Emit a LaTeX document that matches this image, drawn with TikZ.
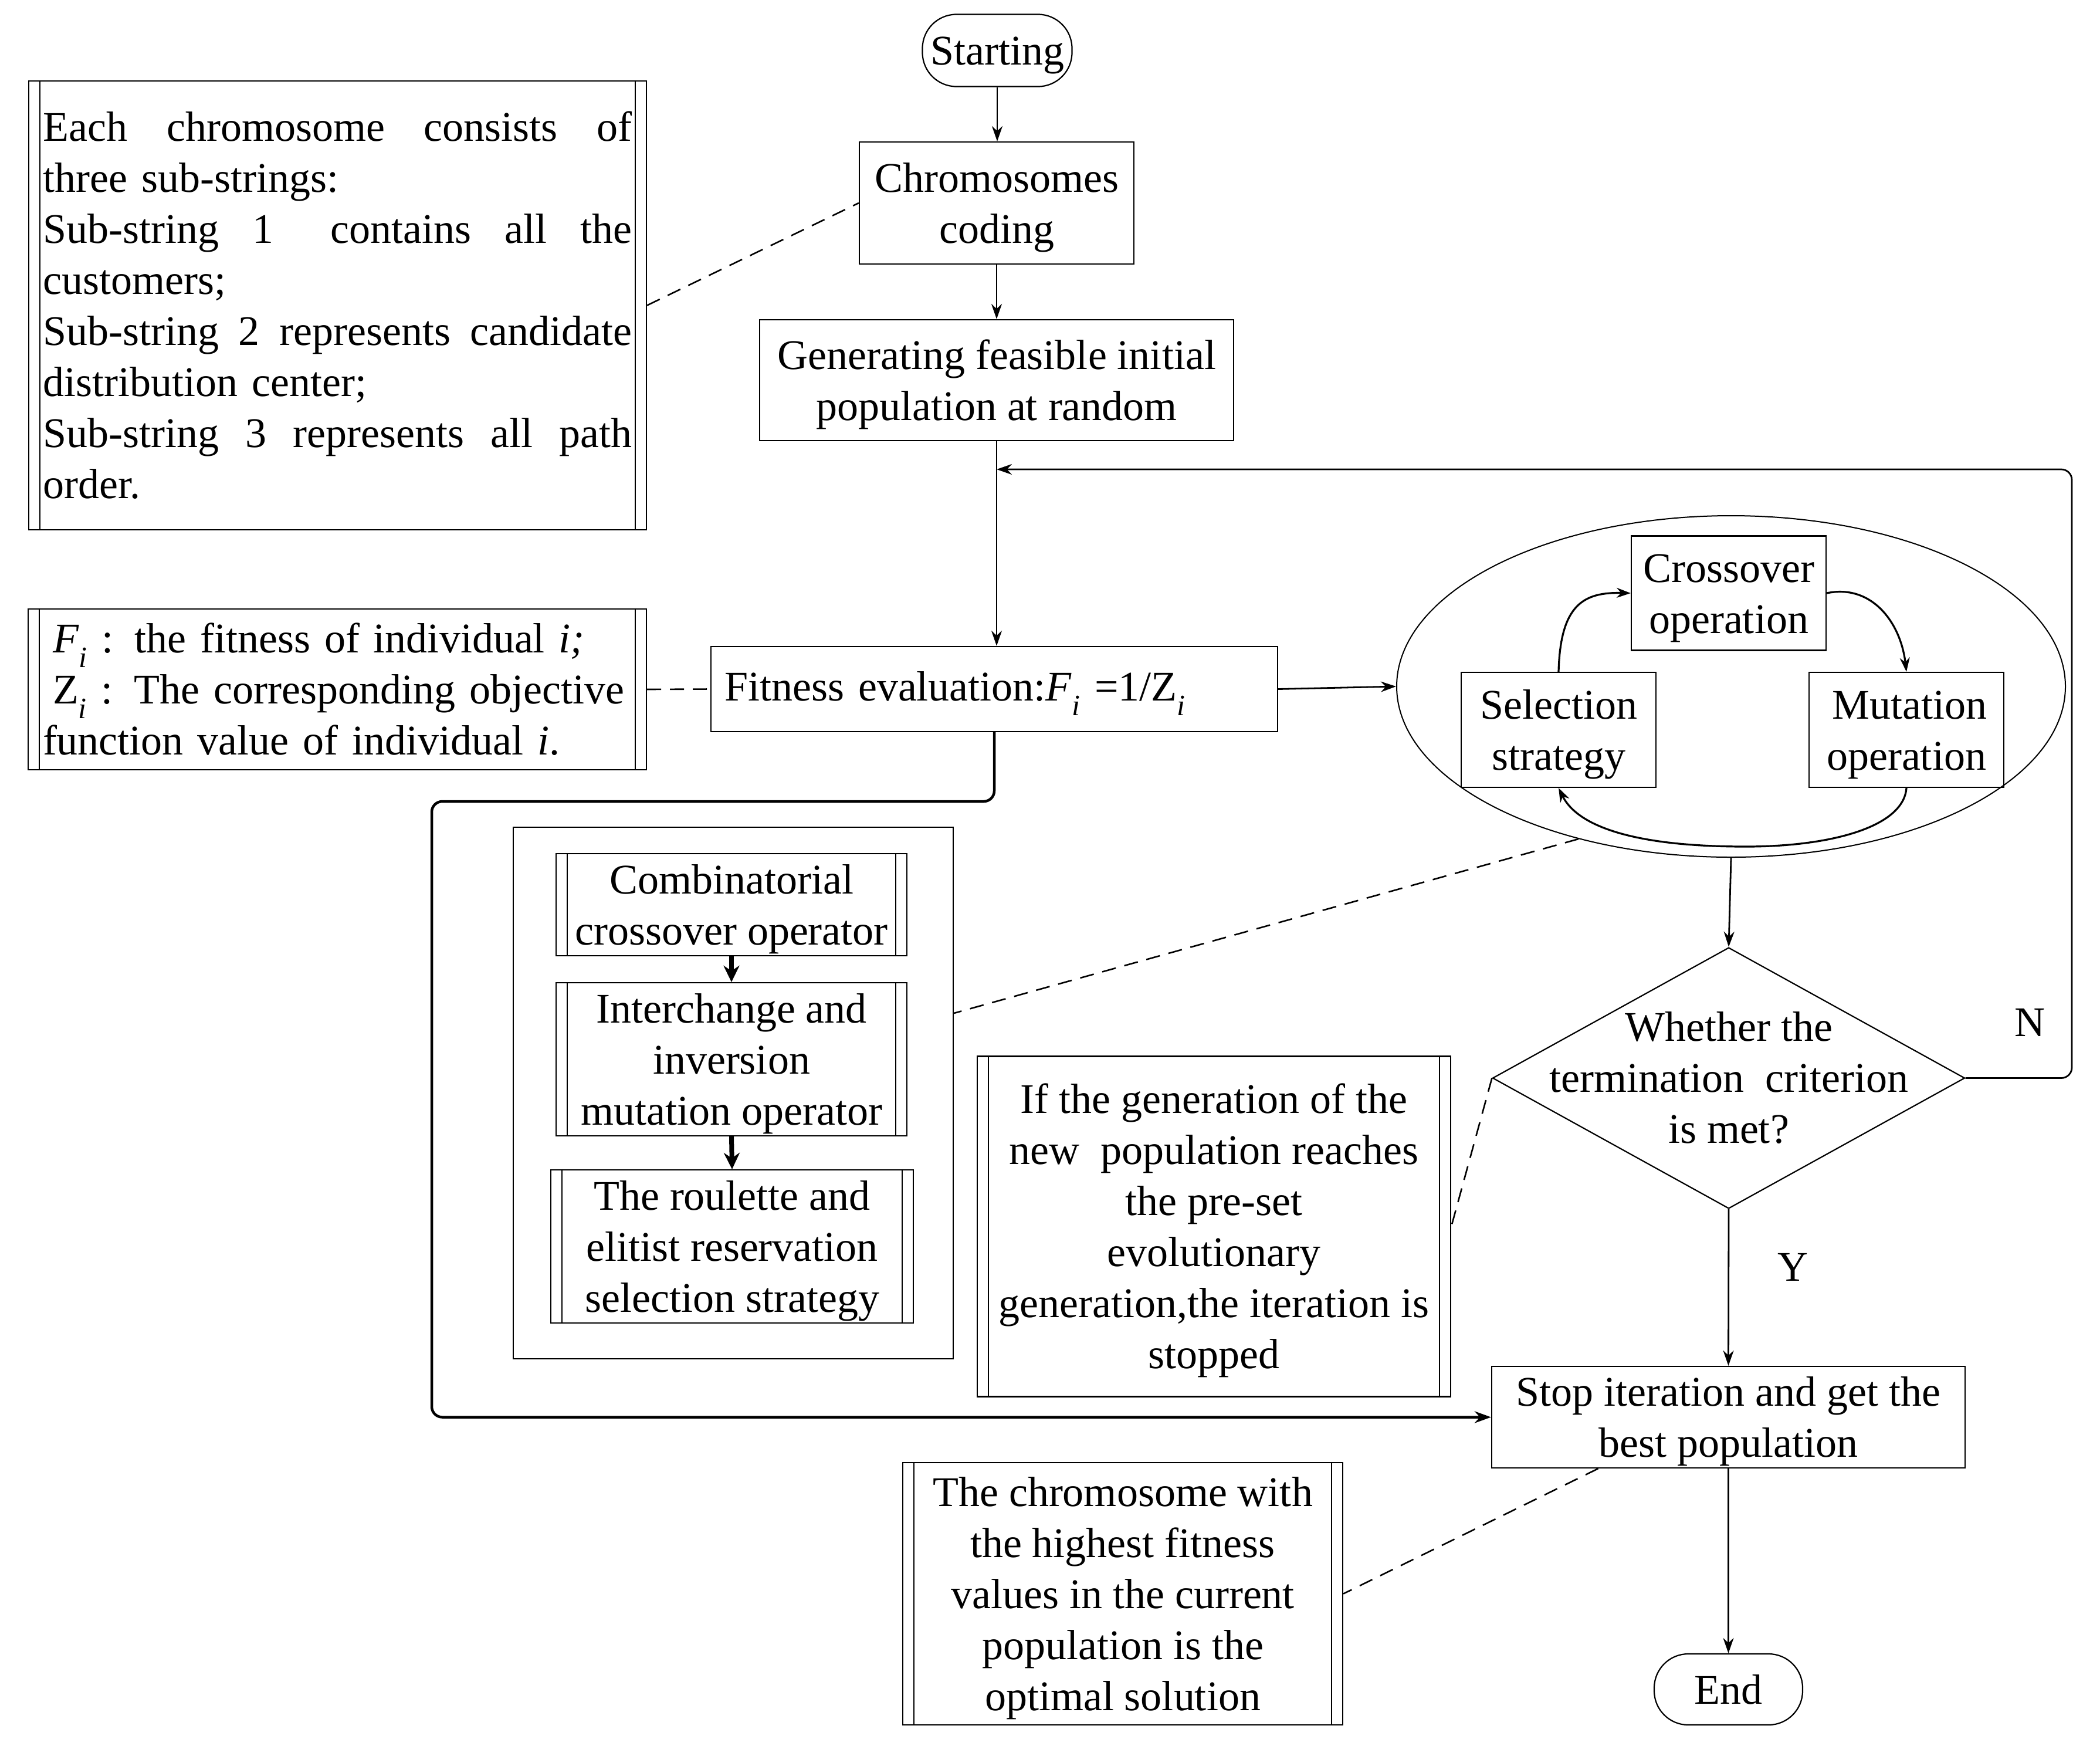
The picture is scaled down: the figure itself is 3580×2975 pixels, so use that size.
\documentclass[tikz,border=0pt]{standalone}
\usepackage{fontspec}
\setmainfont{Liberation Serif}
\usetikzlibrary{arrows.meta,shapes.geometric,calc}
\newcommand\bodyfont{\fontsize{72pt}{87pt}\selectfont}
\newcommand\tp{\rule{0pt}{65pt}}
\newcommand\dbl[1]{\draw[line width=2.2pt] ([xshift=20pt]#1.north west) -- ([xshift=20pt]#1.south west) ([xshift=-20pt]#1.north east) -- ([xshift=-20pt]#1.south east);}
\begin{document}
\begin{tikzpicture}[x=1pt,y=-1pt,
  bx/.style={draw,line width=2.2pt,inner sep=0pt,align=center,font=\bodyfont},
  term/.style={bx,rounded corners=58pt},
  conn/.style={line width=2.8pt,-{Stealth[length=26pt,width=18pt]}},
  thickconn/.style={line width=4.5pt,-{Stealth[length=28pt,width=20pt]},rounded corners=18pt},
  opconn/.style={line width=8pt,-{Stealth[length=28pt,width=27pt]}},
  curveconn/.style={line width=3.2pt,-{Stealth[length=24pt,width=17pt]}},
  dsh/.style={line width=2.6pt,dash pattern=on 24pt off 15pt},
  lbl/.style={font=\bodyfont,inner sep=0pt}]
\fill[white] (0,0) rectangle (3580,2975);
\useasboundingbox (0,0) rectangle (3580,2975);

% main flow
\node[term,minimum width=255pt,minimum height=123pt] (start) at (1700,86) {\tp Starting};
\node[bx,minimum width=468pt,minimum height=208pt] (code) at (1699,346) {\tp Chromosomes\\coding};
\node[bx,minimum width=808pt,minimum height=206pt] (gen) at (1699,648) {\tp Generating feasible initial\\population at random};
\node[bx,minimum height=145pt,text width=920pt,inner xsep=23pt,align=left] (fit) at (1695,1174.5) {\tp Fitness evaluation:\textit{F}\textsubscript{\textit{i}} =1/Z\textsubscript{\textit{i}}};

\node[draw,ellipse,line width=2pt,minimum width=1140pt,minimum height=582pt,inner sep=0pt] (ell) at (2951,1170) {};
\node[bx,minimum width=332pt,minimum height=195pt] (cross) at (2947,1011) {\tp Crossover\\operation};
\node[bx,minimum width=332pt,minimum height=196pt] (sel) at (2657,1244) {\tp Selection\\strategy};
\node[bx,minimum width=332pt,minimum height=196pt] (mut) at (3250,1244) {\tp\hspace*{10pt}Mutation\\operation};

\node[draw,diamond,line width=2.2pt,minimum width=805pt,minimum height=445pt,inner sep=0pt] (dec) at (2947,1837.5) {};
\node[lbl,align=center] (dectext) at (dec.center) {Whether the\\termination\ \ criterion\\is met?};

\node[bx,minimum width=807pt,minimum height=173pt] (stop) at (2946.5,2415.5) {\tp Stop iteration and get the\\best population};
\node[term,minimum width=253pt,minimum height=121pt] (end) at (2946.5,2879.5) {End};

% notes
\node[bx,minimum width=1053pt,minimum height=765pt,text width=1004pt,align=left] (note1) at (575.5,520.5) {\makebox[1004pt][s]{Each\hfill chromosome\hfill consists\hfill of}\\three sub-strings:\\\makebox[1004pt][s]{Sub-string\hfill 1\hspace{0pt plus 1.7fill}contains\hfill all\hfill the}\\customers;\\\makebox[1004pt][s]{Sub-string\hfill 2\hfill represents\hfill candidate}\\distribution center;\\\makebox[1004pt][s]{Sub-string\hfill 3\hfill represents\hfill all\hfill path}\\order.};
\dbl{note1}

\node[bx,minimum width=1054pt,minimum height=274pt,text width=1004pt,align=left] (note2) at (575,1175) {\hspace*{17pt}\textit{F}\textsubscript{\textit{i}} : the fitness of individual \textit{i;}\\\hspace*{17pt}Z\textsubscript{\textit{i}} : The corresponding objective\\function value of individual \textit{i}.};
\dbl{note2}

\node[draw,line width=2.2pt,minimum width=750pt,minimum height=906pt,inner sep=0pt] (cont) at (1250,1863) {};
\node[bx,minimum width=598pt,minimum height=174pt] (comb) at (1247,1542) {\tp Combinatorial\\crossover operator};
\dbl{comb}
\node[bx,minimum width=598pt,minimum height=261pt] (inter) at (1247,1805.5) {\tp Interchange and\\inversion\\mutation operator};
\dbl{inter}
\node[bx,minimum width=618pt,minimum height=261pt] (roul) at (1248,2124.5) {\tp The roulette and\\elitist reservation\\selection strategy};
\dbl{roul}

\node[bx,minimum width=807pt,minimum height=580pt] (stopnote) at (2069.5,2090.5) {\tp If the generation of the\\new\ \ population reaches\\the pre-set\\evolutionary\\generation,the iteration is\\stopped};
\dbl{stopnote}

\node[bx,minimum width=750pt,minimum height=447pt] (best) at (1914,2716.5) {\tp The chromosome with\\the highest fitness\\values in the current\\population is the\\optimal solution};
\dbl{best}

% labels
\node[lbl] (nlab) at (3460,1743) {N};
\node[lbl] (ylab) at (3056,2160) {Y};

% coordinates
\coordinate (ytop) at (0,800);
\coordinate (loopin) at (gen.south |- ytop);
\coordinate (rtop) at (3532,800);
\coordinate (lcorner) at (736,1366);
\coordinate (cbot) at (2976,1443);

% connectors
\draw[conn] (start.south) -- (start.south |- code.north);
\draw[conn] (code.south) -- (code.south |- gen.north);
\draw[conn] (gen.south) -- (gen.south |- fit.north);
\draw[conn,rounded corners=18pt] (dec.east) -- (dec.east -| rtop) -- (rtop) -- (loopin);
\draw[conn] (fit.east) -- (ell.west);
\draw[conn] (ell.south) -- (dec.north);
\draw[conn] (dec.south) -- (stop.north);
\draw[conn] (stop.south) -- (end.north);
\draw[thickconn] (fit.south) -- (fit.south |- lcorner) -- (lcorner) -- (lcorner |- stop.west) -- (stop.west);

\draw[opconn] (comb.south) -- (inter.north);
\draw[opconn] (inter.south) -- (roul.north);

\draw[curveconn] (sel.north) .. controls (2660,1030) and (2700,1009) .. (cross.west);
\draw[curveconn] (cross.east) .. controls (3190,995) and (3240,1060) .. (mut.north);
\draw[curveconn] (mut.south) .. controls (3245,1410) and (3120,1443) .. (cbot) .. controls (2790,1443) and (2690,1410) .. (sel.south);

% dashed links
\draw[dsh] (note1.east) -- (code.west);
\draw[dsh] (note2.east) -- (fit.west);
\draw[dsh] (ell.225) -- ([yshift=136pt]cont.east);
\draw[dsh] (dec.west) -- (stopnote.east);
\draw[dsh] ([xshift=-222pt]stop.south) -- (best.east);
\end{tikzpicture}
\end{document}
